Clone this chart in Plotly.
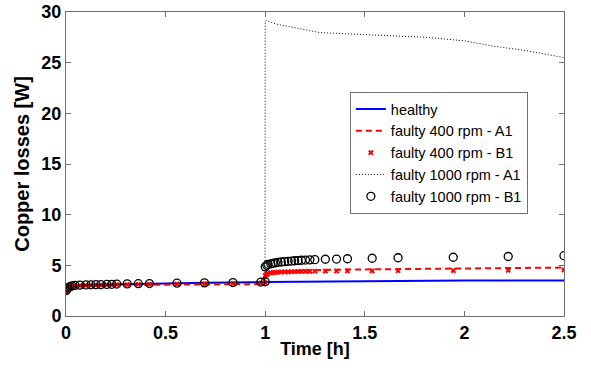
import plotly.graph_objects as go

# ---- data ----
t_healthy = [0, 0.005, 0.01, 0.02, 0.03, 0.05, 0.1, 0.2, 0.3, 0.5, 0.7, 1.0, 1.25, 1.5, 2.0, 2.5]
v_healthy = [2.45, 2.6, 2.75, 2.85, 2.92, 3.0, 3.05, 3.1, 3.15, 3.22, 3.28, 3.35, 3.4, 3.45, 3.5, 3.5]

t_400_a1 = [0, 0.005, 0.01, 0.02, 0.03, 0.05, 0.1, 0.2, 0.3, 0.5, 0.7, 0.995, 1.0, 1.02, 1.05, 1.1, 1.2, 1.4, 1.6, 2.0, 2.25, 2.5]
v_400_a1 = [2.45, 2.6, 2.72, 2.82, 2.9, 2.96, 3.0, 3.03, 3.06, 3.1, 3.12, 3.15, 4.1, 4.25, 4.35, 4.42, 4.5, 4.58, 4.62, 4.66, 4.7, 4.78]

t_1000_a1 = [0, 0.01, 0.03, 0.1, 0.3, 0.6, 0.999, 1.0, 1.006, 1.056, 1.157, 1.274, 1.495, 1.81, 1.994, 2.14, 2.31, 2.49, 2.5]
v_1000_a1 = [2.5, 2.75, 2.9, 3.05, 3.15, 3.25, 3.35, 29.1, 29.15, 28.8, 28.4, 27.97, 27.77, 27.5, 27.17, 26.65, 26.19, 25.6, 25.5]

t_samples = [0, 0.005, 0.01, 0.02, 0.03, 0.045, 0.07, 0.1, 0.125, 0.15, 0.175, 0.205, 0.23, 0.255,
             0.307, 0.363, 0.419, 0.557, 0.695, 0.838, 0.978, 1.0,
             1.0, 1.008, 1.014, 1.028, 1.039, 1.051, 1.064, 1.081, 1.098, 1.115, 1.132, 1.148, 1.165,
             1.182, 1.202, 1.224, 1.249, 1.302, 1.358, 1.413, 1.537, 1.667, 1.944, 2.22, 2.5]
v_400_b1 = [2.45, 2.6, 2.75, 2.85, 2.92, 2.97, 3.0, 3.02, 3.03, 3.05, 3.05, 3.07, 3.08, 3.09,
            3.1, 3.12, 3.13, 3.15, 3.17, 3.2, 3.25, 3.28,
            4.0, 4.1, 4.2, 4.25, 4.28, 4.3, 4.32, 4.34, 4.35, 4.36, 4.37, 4.38, 4.39,
            4.4, 4.4, 4.41, 4.42, 4.43, 4.44, 4.45, 4.46, 4.47, 4.48, 4.5, 4.55]
v_1000_b1 = [2.5, 2.65, 2.8, 2.9, 2.97, 3.02, 3.05, 3.07, 3.08, 3.1, 3.1, 3.12, 3.13, 3.15,
             3.17, 3.19, 3.2, 3.24, 3.27, 3.3, 3.35, 3.38,
             4.85, 5.0, 5.1, 5.15, 5.2, 5.25, 5.3, 5.33, 5.36, 5.4, 5.42, 5.45, 5.47,
             5.5, 5.52, 5.54, 5.56, 5.6, 5.62, 5.65, 5.7, 5.75, 5.8, 5.87, 5.95]

x_ticks = [0, 0.5, 1, 1.5, 2, 2.5]
x_ticktext = ["0", "0.5", "1", "1.5", "2", "2.5"]
y_ticks = [0, 5, 10, 15, 20, 25, 30]

FONT = "Liberation Sans, Arial, sans-serif"
AX = "#6e6e6e"

fig = go.Figure()
fig.add_trace(go.Scatter(x=t_healthy, y=v_healthy, mode="lines", name="healthy",
                         line=dict(color="#0000ff", width=2)))
fig.add_trace(go.Scatter(x=t_400_a1, y=v_400_a1, mode="lines", name="faulty 400 rpm - A1",
                         line=dict(color="#ff0000", width=2, dash="6px,4px")))
fig.add_trace(go.Scatter(x=t_samples, y=v_400_b1, mode="markers", name="faulty 400 rpm - B1",
                         marker=dict(symbol="x", size=5, color="#ff0000", line=dict(width=0))))
fig.add_trace(go.Scatter(x=t_1000_a1, y=v_1000_a1, mode="lines", name="faulty 1000 rpm - A1",
                         line=dict(color="#000000", width=1, dash="1px,2px")))
fig.add_trace(go.Scatter(x=t_samples, y=v_1000_b1, mode="markers", name="faulty 1000 rpm - B1",
                         marker=dict(symbol="circle-open", size=8, color="#000000", line=dict(width=1.3))))

axis_common = dict(showgrid=False, zeroline=False, showline=True, linecolor=AX, linewidth=1,
                   mirror="ticks", ticks="inside", ticklen=5, tickcolor=AX, tickwidth=1,
                   automargin=False, ticklabeloverflow="allow",
                   tickfont=dict(family=FONT, size=18, color="black", weight="bold"))

fig.update_xaxes(range=[0, 2.5], tickvals=x_ticks, ticktext=x_ticktext,
                 title=dict(text="Time [h]", font=dict(family=FONT, size=18, color="black", weight="bold"),
                            standoff=0),
                 **axis_common)
fig.update_yaxes(range=[0, 30], tickvals=y_ticks,
                 title=dict(text="Copper losses [W]", font=dict(family=FONT, size=20, color="black", weight="bold"),
                            standoff=6),
                 **axis_common)

fig.update_layout(
    width=591, height=370,
    margin=dict(l=66, r=27, t=12, b=54),
    paper_bgcolor="white", plot_bgcolor="white",
    font=dict(family=FONT, color="black"),
    showlegend=True,
    legend=dict(x=0.57, y=0.737, xanchor="left", yanchor="top",
                bgcolor="white", bordercolor="#707070", borderwidth=1,
                font=dict(family=FONT, size=14.5, color="black"),
                tracegroupgap=0, itemwidth=30),
)

fig.write_html("out.html", config={"displayModeBar": False},
               post_script="document.body.style.margin='0';")
